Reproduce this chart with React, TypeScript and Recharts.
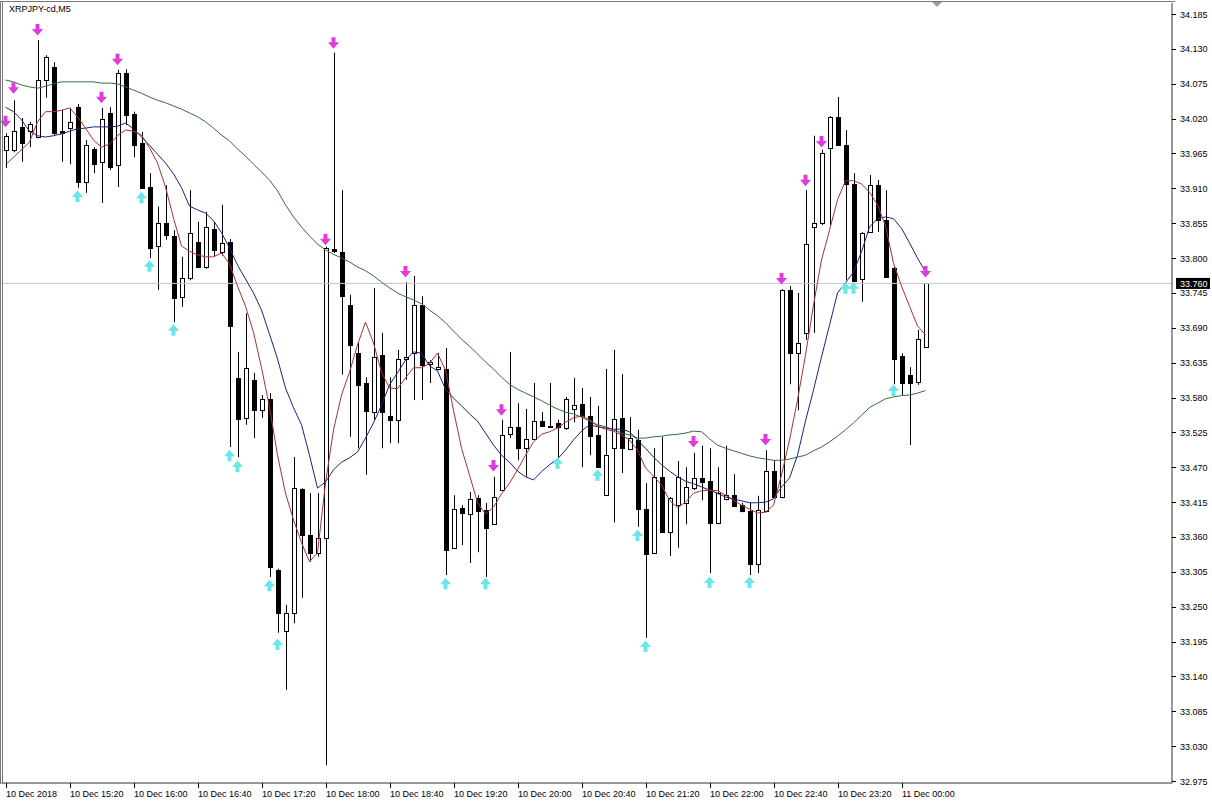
import React from 'react';
import { ComposedChart, Bar, Line, XAxis, YAxis, ReferenceLine } from 'recharts';

const SLOTS = 146;
const symbolTitle = 'XRPJPY-cd,M5';

const timeLabels = [
  '10 Dec 2018', '10 Dec 15:20', '10 Dec 16:00', '10 Dec 16:40', '10 Dec 17:20',
  '10 Dec 18:00', '10 Dec 18:40', '10 Dec 19:20', '10 Dec 20:00', '10 Dec 20:40',
  '10 Dec 21:20', '10 Dec 22:00', '10 Dec 22:40', '10 Dec 23:20', '11 Dec 00:00',
];
const labelIndexes = [0, 8, 16, 24, 32, 40, 48, 56, 64, 72, 80, 88, 96, 104, 112];

const opens = [
  33.971, 33.971, 34.007, 34.000, 33.991, 34.081, 34.101, 34.000, 34.005, 34.038,
  33.920, 33.972, 33.952, 34.029, 33.947, 34.092, 34.027, 33.982, 33.912, 33.819,
  33.855, 33.835, 33.739, 33.769, 33.825, 33.786, 33.846, 33.810, 33.825, 33.611,
  33.548, 33.608, 33.560, 33.578, 33.308, 33.211, 33.240, 33.436, 33.363, 33.335,
  33.358, 33.814, 33.810, 33.726, 33.650, 33.603, 33.557, 33.647, 33.551, 33.545,
  33.641, 33.650, 33.726, 33.633, 33.625, 33.625, 33.343, 33.406, 33.396, 33.421,
  33.403, 33.380, 33.434, 33.522, 33.534, 33.500, 33.515, 33.543, 33.535, 33.540,
  33.532, 33.562, 33.570, 33.551, 33.521, 33.426, 33.500, 33.548, 33.499, 33.513,
  33.404, 33.335, 33.455, 33.368, 33.410, 33.414, 33.437, 33.453, 33.448, 33.382,
  33.420, 33.426, 33.411, 33.401, 33.318, 33.401, 33.464, 33.423, 33.750, 33.650,
  33.682, 33.849, 33.855, 33.974, 34.023, 33.978, 33.917, 33.767, 33.841, 33.915,
  33.860, 33.784, 33.646, 33.615, 33.605, 33.660,
];
const highs = [
  33.997, 34.049, 34.021, 34.015, 34.144, 34.120, 34.109, 34.034, 34.037, 34.043,
  33.986, 33.975, 34.037, 34.038, 34.097, 34.098, 34.031, 33.999, 33.934, 33.881,
  33.915, 33.844, 33.802, 33.907, 33.857, 33.873, 33.857, 33.884, 33.830, 33.652,
  33.713, 33.619, 33.584, 33.587, 33.310, 33.253, 33.486, 33.437, 33.429, 33.429,
  33.818, 34.124, 33.907, 33.742, 33.666, 33.612, 33.753, 33.682, 33.612, 33.655,
  33.762, 33.772, 33.740, 33.639, 33.650, 33.658, 33.426, 33.410, 33.431, 33.426,
  33.414, 33.455, 33.545, 33.652, 33.571, 33.562, 33.603, 33.557, 33.603, 33.545,
  33.581, 33.611, 33.595, 33.581, 33.567, 33.625, 33.655, 33.617, 33.549, 33.529,
  33.445, 33.500, 33.518, 33.423, 33.480, 33.470, 33.493, 33.504, 33.500, 33.470,
  33.504, 33.459, 33.414, 33.414, 33.425, 33.497, 33.481, 33.751, 33.756, 33.745,
  33.907, 33.993, 33.971, 34.024, 34.054, 34.002, 33.934, 33.841, 33.931, 33.923,
  33.907, 33.786, 33.650, 33.628, 33.687, 33.761,
];
const lows = [
  33.942, 33.967, 33.952, 33.975, 33.989, 34.053, 33.994, 33.952, 33.948, 33.911,
  33.903, 33.934, 33.887, 33.939, 33.912, 34.010, 33.959, 33.909, 33.800, 33.750,
  33.829, 33.699, 33.723, 33.765, 33.784, 33.783, 33.802, 33.804, 33.502, 33.486,
  33.537, 33.516, 33.548, 33.297, 33.209, 33.119, 33.224, 33.264, 33.321, 33.329,
  33.000, 33.808, 33.616, 33.518, 33.500, 33.458, 33.545, 33.500, 33.508, 33.508,
  33.608, 33.576, 33.576, 33.603, 33.623, 33.300, 33.341, 33.347, 33.319, 33.336,
  33.297, 33.379, 33.433, 33.516, 33.481, 33.455, 33.513, 33.534, 33.532, 33.486,
  33.529, 33.541, 33.470, 33.489, 33.469, 33.425, 33.383, 33.461, 33.497, 33.376,
  33.201, 33.333, 33.366, 33.330, 33.343, 33.380, 33.434, 33.418, 33.303, 33.380,
  33.418, 33.407, 33.399, 33.300, 33.303, 33.399, 33.421, 33.421, 33.601, 33.560,
  33.671, 33.682, 33.852, 33.852, 33.977, 33.765, 33.762, 33.731, 33.840, 33.841,
  33.769, 33.601, 33.584, 33.505, 33.600, 33.658,
];
const closes = [
  33.993, 34.000, 33.982, 34.011, 34.081, 34.117, 33.997, 33.997, 34.015, 33.920,
  33.978, 33.948, 34.019, 33.944, 34.092, 34.026, 33.978, 33.911, 33.816, 33.855,
  33.836, 33.737, 33.769, 33.840, 33.786, 33.849, 33.813, 33.824, 33.693, 33.546,
  33.627, 33.560, 33.578, 33.313, 33.240, 33.240, 33.437, 33.363, 33.335, 33.358,
  33.816, 33.811, 33.740, 33.663, 33.600, 33.559, 33.644, 33.557, 33.545, 33.641,
  33.644, 33.726, 33.631, 33.636, 33.628, 33.340, 33.404, 33.398, 33.420, 33.401,
  33.374, 33.423, 33.521, 33.534, 33.500, 33.515, 33.543, 33.535, 33.534, 33.534,
  33.578, 33.568, 33.551, 33.519, 33.470, 33.489, 33.546, 33.500, 33.516, 33.404,
  33.333, 33.455, 33.368, 33.421, 33.455, 33.439, 33.453, 33.447, 33.382, 33.429,
  33.426, 33.409, 33.401, 33.318, 33.403, 33.464, 33.423, 33.750, 33.650, 33.666,
  33.822, 33.855, 33.966, 34.023, 33.978, 33.917, 33.764, 33.840, 33.915, 33.860,
  33.770, 33.641, 33.603, 33.603, 33.672, 33.760,
];

const maFast = [
  33.947, 33.959, 33.971, 33.983, 34.015, 34.031, 34.031, 34.033, 34.037, 34.023,
  34.005, 33.986, 33.975, 33.980, 33.993, 34.002, 34.000, 33.994, 33.974, 33.950,
  33.912, 33.863, 33.819, 33.811, 33.805, 33.802, 33.802, 33.808, 33.791, 33.756,
  33.724, 33.683, 33.627, 33.565, 33.489, 33.429, 33.387, 33.351, 33.321, 33.335,
  33.445, 33.529, 33.584, 33.620, 33.663, 33.699, 33.666, 33.620, 33.595, 33.594,
  33.611, 33.627, 33.627, 33.634, 33.650, 33.623, 33.560, 33.500, 33.458, 33.414,
  33.396, 33.407, 33.428, 33.445, 33.466, 33.489, 33.510, 33.522, 33.526, 33.532,
  33.541, 33.548, 33.551, 33.545, 33.535, 33.530, 33.527, 33.521, 33.513, 33.497,
  33.469, 33.456, 33.442, 33.418, 33.406, 33.415, 33.429, 33.433, 33.434, 33.433,
  33.426, 33.418, 33.410, 33.404, 33.398, 33.399, 33.410, 33.458, 33.513, 33.576,
  33.647, 33.726, 33.797, 33.844, 33.892, 33.922, 33.922, 33.917, 33.904, 33.884,
  33.851, 33.792, 33.756, 33.724, 33.693, 33.679,
];
const maMid = [
  34.038, 34.031, 34.018, 34.000, 33.993, 33.991, 33.993, 33.996, 34.000, 34.004,
  34.005, 34.007, 34.007, 34.007, 34.008, 34.013, 34.004, 33.991, 33.978, 33.964,
  33.950, 33.933, 33.911, 33.882, 33.876, 33.871, 33.859, 33.840, 33.816, 33.789,
  33.767, 33.745, 33.718, 33.680, 33.641, 33.595, 33.564, 33.537, 33.489, 33.437,
  33.447, 33.466, 33.478, 33.485, 33.494, 33.516, 33.540, 33.568, 33.600, 33.619,
  33.639, 33.652, 33.650, 33.630, 33.622, 33.593, 33.579, 33.567, 33.554, 33.543,
  33.524, 33.505, 33.489, 33.478, 33.464, 33.455, 33.450, 33.463, 33.474, 33.483,
  33.497, 33.513, 33.527, 33.537, 33.534, 33.532, 33.530, 33.530, 33.526, 33.513,
  33.500, 33.486, 33.474, 33.464, 33.455, 33.448, 33.444, 33.439, 33.434, 33.429,
  33.423, 33.420, 33.417, 33.414, 33.414, 33.415, 33.420, 33.439, 33.453, 33.489,
  33.543, 33.592, 33.644, 33.694, 33.745, 33.761, 33.778, 33.810, 33.849, 33.862,
  33.865, 33.862, 33.847, 33.824, 33.800, 33.778,
];
const maSlow = [
  34.081, 34.078, 34.073, 34.070, 34.068, 34.071, 34.075, 34.078, 34.078, 34.078,
  34.078, 34.078, 34.076, 34.076, 34.075, 34.070, 34.065, 34.060, 34.054, 34.049,
  34.045, 34.040, 34.035, 34.029, 34.023, 34.015, 34.005, 33.994, 33.985, 33.972,
  33.961, 33.948, 33.936, 33.923, 33.906, 33.884, 33.865, 33.849, 33.835, 33.822,
  33.813, 33.806, 33.800, 33.794, 33.786, 33.780, 33.772, 33.762, 33.753, 33.745,
  33.739, 33.734, 33.728, 33.718, 33.709, 33.698, 33.685, 33.672, 33.661, 33.649,
  33.636, 33.625, 33.612, 33.601, 33.593, 33.587, 33.581, 33.575, 33.568, 33.562,
  33.557, 33.554, 33.549, 33.543, 33.537, 33.534, 33.529, 33.524, 33.521, 33.516,
  33.516, 33.518, 33.519, 33.521, 33.522, 33.524, 33.527, 33.526, 33.515, 33.505,
  33.500, 33.496, 33.492, 33.488, 33.485, 33.483, 33.481, 33.481, 33.483, 33.486,
  33.489, 33.496, 33.502, 33.510, 33.519, 33.529, 33.540, 33.552, 33.564, 33.571,
  33.578, 33.581, 33.583, 33.584, 33.587, 33.591,
];

const downArrowIdx = [0, 1, 4, 12, 14, 40, 41, 50, 61, 62, 86, 95, 97, 100, 102, 115];
const downArrowPrice = [
  34.015, 34.068, 34.160, 34.053, 34.113, 33.829, 34.139, 33.778, 33.472, 33.560,
  33.510, 33.513, 33.767, 33.922, 33.983, 33.778,
];
const upArrowIdx = [9, 17, 18, 21, 28, 29, 33, 34, 55, 60, 69, 74, 79, 80, 88, 93, 105, 106, 111];
const upArrowPrice = [
  33.898, 33.896, 33.788, 33.687, 33.489, 33.472, 33.284, 33.191, 33.287, 33.287,
  33.477, 33.458, 33.363, 33.188, 33.289, 33.289, 33.753, 33.753, 33.592,
];

const priceTicks = [
  34.185, 34.13, 34.075, 34.02, 33.965, 33.91, 33.855, 33.8, 33.745, 33.69, 33.635, 33.58,
  33.525, 33.47, 33.415, 33.36, 33.305, 33.25, 33.195, 33.14, 33.085, 33.03, 32.975,
];
const lastPrice = 33.76;
const priceDomain = [32.9719, 34.2024];

const chartData = Array.from({ length: SLOTS }, (_, i) => {
  const has = i < opens.length;
  const di = downArrowIdx.indexOf(i);
  const ui = upArrowIdx.indexOf(i);
  return {
    i,
    range: has ? [lows[i], highs[i]] : null,
    o: has ? opens[i] : null,
    h: has ? highs[i] : null,
    l: has ? lows[i] : null,
    c: has ? closes[i] : null,
    fast: has ? maFast[i] : null,
    mid: has ? maMid[i] : null,
    slow: has ? maSlow[i] : null,
    down: di >= 0 ? downArrowPrice[di] : null,
    up: ui >= 0 ? upArrowPrice[ui] : null,
  };
});

const FONT = "'Liberation Sans', Arial, sans-serif";

const Candle = (props: any) => {
  const { x, y, width, height, payload } = props;
  if (!payload || payload.o == null || y == null || isNaN(y)) return <g />;
  const { o, h, l, c } = payload;
  const k = h !== l ? height / (h - l) : 0;
  const cx = Math.round(x + width / 2) + 0.5;
  const yo = y + (h - o) * k;
  const yc = y + (h - c) * k;
  const top = Math.round(Math.min(yo, yc));
  const bot = Math.round(Math.max(yo, yc));
  const bull = c > o;
  return (
    <g>
      <line x1={cx} x2={cx} y1={y} y2={y + height} stroke="#000" strokeWidth={1} />
      {bull ? (
        <rect x={cx - 2} y={top + 0.5} width={4} height={Math.max(1, bot - top)} fill="#fff" stroke="#000" strokeWidth={1} />
      ) : (
        <rect x={cx - 2.5} y={top} width={5} height={Math.max(1, bot - top + 1)} fill="#000" />
      )}
    </g>
  );
};

const DownArrow = (props: any) => {
  const { cx, cy, value, index } = props;
  if (value == null || cy == null || isNaN(cy)) return <g key={`d${index}`} />;
  const d = `M${cx - 2},${cy - 6} h4 v5 h3.5 l-5.5,6.5 l-5.5,-6.5 h3.5 z`;
  return <path key={`d${index}`} d={d} fill="#dc3cdc" />;
};

const UpArrow = (props: any) => {
  const { cx, cy, value, index } = props;
  if (value == null || cy == null || isNaN(cy)) return <g key={`u${index}`} />;
  const d = `M${cx - 2},${cy + 6} h4 v-5 h3.5 l-5.5,-6.5 l-5.5,6.5 h3.5 z`;
  return <path key={`u${index}`} d={d} fill="#6ae6e6" />;
};

const TimeTick = (props: any) => {
  const { x, y, payload } = props;
  const idx = labelIndexes.indexOf(payload.value);
  const txt = idx >= 0 ? timeLabels[idx] : '';
  const tx = Math.round(x) + 0.5;
  return (
    <g>
      <line x1={tx} x2={tx} y1={y} y2={y + 5} stroke="#000" />
      <text x={tx - 0.5} y={y + 14} fontSize={9} fontFamily={FONT} fill="#000" textAnchor="start">
        {txt}
      </text>
    </g>
  );
};

const PriceTick = (props: any) => {
  const { x, y, payload } = props;
  const v = payload.value as number;
  if (Math.abs(v - lastPrice) < 1e-6) {
    return (
      <g>
        <rect x={x + 4} y={y - 5.5} width={34} height={11} fill="#000" />
        <text x={x + 8} y={y + 3.5} fontSize={9} fontFamily={FONT} fill="#fff">
          {v.toFixed(3)}
        </text>
      </g>
    );
  }
  const ty = Math.round(y) + 0.5;
  return (
    <g>
      <line x1={x} x2={x + 4} y1={ty} y2={ty} stroke="#000" />
      <text x={x + 8} y={y + 3.5} fontSize={9} fontFamily={FONT} fill="#000">
        {v.toFixed(3)}
      </text>
    </g>
  );
};

export default function App() {
  return (
    <div style={{ position: 'absolute', left: 0, top: 0, width: 1212, height: 804, background: '#fff' }}>
      <ComposedChart
        width={1212}
        height={804}
        data={chartData}
        margin={{ top: 3, right: 0, bottom: 0, left: 1.5 }}
      >
        <XAxis
          dataKey="i"
          type="category"
          ticks={labelIndexes}
          interval={0}
          tick={<TimeTick />}
          tickLine={false}
          tickSize={0}
          tickMargin={0}
          height={21}
          padding={{ left: 0, right: 2.5 }}
          axisLine={{ stroke: '#333' }}
        />
        <YAxis
          orientation="right"
          type="number"
          domain={priceDomain}
          allowDataOverflow
          ticks={[...priceTicks, lastPrice]}
          interval={0}
          tick={<PriceTick />}
          tickLine={false}
          tickSize={0}
          tickMargin={0}
          width={40}
          axisLine={{ stroke: '#333' }}
        />
        <ReferenceLine y={lastPrice} stroke="#c6c6c6" strokeWidth={1} ifOverflow="hidden" />
        <Line dataKey="slow" stroke="#3a6a3a" strokeWidth={1} dot={false} activeDot={false} isAnimationActive={false} />
        <Line dataKey="mid" stroke="#20207a" strokeWidth={1} dot={false} activeDot={false} isAnimationActive={false} />
        <Line dataKey="fast" stroke="#a83232" strokeWidth={1} dot={false} activeDot={false} isAnimationActive={false} />
        <Bar dataKey="range" barSize={5} shape={<Candle />} isAnimationActive={false} />
        <Line dataKey="down" stroke="none" dot={DownArrow} activeDot={false} isAnimationActive={false} />
        <Line dataKey="up" stroke="none" dot={UpArrow} activeDot={false} isAnimationActive={false} />
      </ComposedChart>
      <div
        style={{
          position: 'absolute', left: 0, top: 1, width: 1172, height: 782,
          borderTop: '1px solid #777', borderLeft: '3px double #777', pointerEvents: 'none',
        }}
      />
      <div
        style={{
          position: 'absolute', left: 9, top: 4, fontSize: 9, fontFamily: FONT, color: '#000',
          whiteSpace: 'nowrap', lineHeight: '11px',
        }}
      >
        {symbolTitle}
      </div>
      <svg style={{ position: 'absolute', left: 932, top: 2 }} width={11} height={7}>
        <path d="M0,0 L10,0 L5,5 Z" fill="#a0a0a0" />
      </svg>
    </div>
  );
}
